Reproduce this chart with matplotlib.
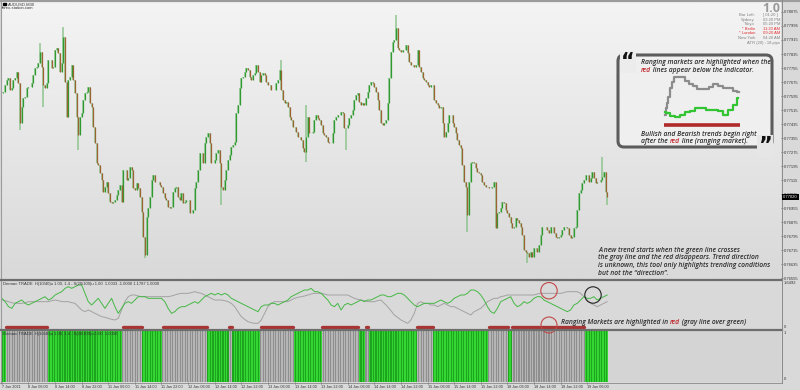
import numpy as np
import matplotlib
matplotlib.use("Agg")
import matplotlib.pyplot as plt
from matplotlib.patches import FancyBboxPatch, Circle, Rectangle
from matplotlib.offsetbox import TextArea, HPacker, AnnotationBbox
from matplotlib.colors import LinearSegmentedColormap
from matplotlib.transforms import blended_transform_factory

# ---------------- data ----------------
close = [
 0.77611,0.77620,0.77658,0.77687,0.77696,0.77630,0.77639,0.77687,0.77696,0.77734,
 0.77668,0.77439,0.77534,0.77582,0.77592,0.77639,0.77649,0.77649,0.77668,0.77715,
 0.77753,0.77763,0.77782,0.77849,0.77763,0.77658,0.77639,0.77668,0.77801,0.77801,
 0.77753,0.77763,0.77858,0.77868,0.77839,0.77734,0.77782,0.77934,0.77677,0.77477,
 0.77687,0.77706,0.77773,0.77687,0.77611,0.77477,0.77372,0.77477,0.77496,0.77572,
 0.77611,0.77620,0.77649,0.77553,0.77534,0.77420,0.77325,0.77211,0.77201,0.77153,
 0.77115,0.77049,0.77077,0.77106,0.77039,0.76991,0.76982,0.76991,0.77001,0.77030,
 0.77058,0.77087,0.76991,0.77172,0.77172,0.77115,0.77125,0.77191,0.77172,0.77068,
 0.77058,0.77096,0.77068,0.77020,0.76934,0.76791,0.76687,0.76906,0.76953,0.77020,
 0.77115,0.77144,0.77106,0.77106,0.77106,0.77087,0.77077,0.77039,0.77011,0.77001,
 0.76963,0.76953,0.76963,0.77049,0.77068,0.77077,0.77020,0.77001,0.77039,0.76982,
 0.76991,0.77001,0.77001,0.76925,0.76925,0.76944,0.77068,0.77106,0.77172,0.77268,
 0.77268,0.77211,0.77325,0.77363,0.77382,0.77325,0.77211,0.77211,0.77230,0.77268,
 0.77287,0.77211,0.77077,0.77058,0.77115,0.77172,0.77230,0.77258,0.77306,0.77315,
 0.77334,0.77496,0.77544,0.77639,0.77696,0.77706,0.77734,0.77753,0.77744,0.77706,
 0.77687,0.77715,0.77725,0.77773,0.77734,0.77677,0.77715,0.77725,0.77715,0.77677,
 0.77658,0.77658,0.77630,0.77630,0.77630,0.77668,0.77687,0.77744,0.77630,0.77572,
 0.77553,0.77563,0.77534,0.77477,0.77458,0.77420,0.77420,0.77392,0.77363,0.77363,
 0.77344,0.77296,0.77277,0.77363,0.77477,0.77382,
 0.77382,0.77392,0.77458,0.77487,0.77468,0.77458,0.77430,0.77382,0.77372,0.77363,
 0.77334,0.77325,0.77325,0.77382,0.77458,0.77477,0.77487,0.77487,0.77506,0.77496,
 0.77411,0.77411,0.77430,0.77468,0.77487,0.77515,0.77572,0.77601,0.77611,0.77563,
 0.77544,0.77553,0.77544,0.77582,0.77620,0.77658,0.77677,0.77668,0.77649,0.77620,
 0.77572,0.77515,0.77439,0.77430,0.77439,0.77458,0.77553,0.77696,0.77849,0.77906,
 0.77915,0.77982,0.77868,0.77858,0.77849,0.77858,0.77858,0.77887,0.77839,0.77792,
 0.77773,0.77773,0.77763,0.77773,0.77858,0.77763,0.77734,0.77696,0.77687,0.77677,
 0.77658,0.77649,0.77658,0.77658,0.77572,0.77553,0.77544,0.77525,0.77534,0.77439,
 0.77363,0.77392,0.77439,0.77487,0.77487,0.77439,0.77420,0.77382,0.77344,0.77315,
 0.77296,0.77201,0.77106,0.77077,0.76915,0.77106,0.77211,0.77220,0.77211,0.77182,
 0.77163,0.77153,0.77144,0.77106,0.77087,0.77077,0.77077,0.77068,0.77068,0.77077,
 0.77106,0.76839,0.76925,0.76934,0.76953,0.76991,0.76982,0.76944,0.76925,0.76906,
 0.76868,0.76839,0.76849,0.76896,0.76887,0.76868,0.76849,0.76801,0.76715,0.76706,
 0.76696,0.76677,0.76706,0.76677,0.76725,0.76725,0.76706,0.76744,0.76801,0.76849,
 0.76849,0.76849,0.76830,0.76810,0.76849,0.76849,0.76810,0.76791,0.76782,0.76791,
 0.76801,0.76830,0.76849,0.76849,0.76839,0.76801,0.76782,0.76791,0.76839,0.76849,
 0.76944,0.77039,0.77058,0.77096,0.77115,0.77144,0.77144,0.77106,0.77125,0.77163,
 0.77125,0.77096,0.77106,0.77106,0.77115,0.77134,0.77163,0.77049,0.77020,
]
# notable wick extremes (bar index -> price)
wick_high = {23: 0.77896, 37: 0.77992, 168: 0.77801, 183: 0.77544, 237: 0.78058, 361: 0.77249}
wick_low = {11: 0.77401, 25: 0.77534, 46: 0.77287, 86: 0.76668, 132: 0.76972, 183: 0.77220,
            207: 0.77287, 280: 0.76820, 316: 0.76639, 364: 0.76972}

# indicator lines, one value every 2 bars
green_line = [
 0.95,0.85,0.70,0.65,0.80,0.85,0.90,0.80,0.75,0.80,
 0.85,0.90,0.95,1.00,0.90,0.95,1.05,1.10,1.15,1.25,
 1.30,1.25,1.30,1.35,1.35,1.10,0.85,0.75,0.85,0.95,
 0.80,0.65,0.80,0.95,0.70,0.50,0.65,0.80,0.85,0.80,
 0.90,1.00,1.00,1.00,0.95,0.95,0.95,0.95,0.95,0.85,
 0.65,0.50,0.55,0.65,0.70,0.70,0.75,0.80,0.85,0.80,
 0.90,1.00,1.05,1.10,1.05,1.10,1.05,1.10,1.05,0.95,
 0.90,0.85,0.80,0.75,0.70,0.65,0.60,0.55,0.70,0.75,
 0.75,0.80,0.80,0.75,0.80,0.85,0.90,1.00,1.05,1.10,
 1.15,1.20,1.20,1.25,1.15,1.15,1.10,1.00,0.90,0.75,
 0.70,0.80,0.60,0.75,0.80,0.75,0.80,0.85,0.90,0.85,
 0.90,0.90,0.95,1.00,1.05,1.05,1.00,1.00,1.05,1.10,
 1.10,
 1.05,0.95,0.85,0.75,0.70,0.75,0.80,0.80,0.80,0.80,
 0.85,0.90,0.85,0.80,0.85,0.95,1.00,1.05,1.05,1.10,
 1.20,1.20,1.15,1.05,0.90,0.70,0.55,0.50,0.65,0.85,
 0.90,0.95,1.00,0.80,0.70,0.75,0.85,0.80,0.85,0.95,
 1.00,1.00,0.90,0.85,0.80,0.75,0.70,0.65,0.60,0.55,
 0.60,0.75,0.80,0.90,1.00,0.95,0.95,1.00,0.90,0.95,
 1.00,1.05,
]
gray_line = [
 0.90,0.88,0.85,0.82,0.80,0.80,0.80,0.82,0.85,0.85,
 0.85,0.85,0.85,0.85,0.85,0.88,0.90,0.88,0.85,0.85,
 0.85,0.82,0.80,0.70,0.60,0.55,0.60,0.55,0.50,0.45,
 0.40,0.38,0.35,0.32,0.30,0.35,0.60,0.85,1.00,1.05,
 1.05,1.02,1.00,1.00,1.00,1.00,1.00,1.00,1.00,1.00,
 1.00,1.02,1.05,1.08,1.10,1.10,1.10,1.12,1.15,1.12,
 1.10,1.05,1.00,0.95,0.90,0.90,0.90,0.88,0.85,0.80,
 0.70,0.55,0.40,0.32,0.25,0.22,0.20,0.20,0.30,0.50,
 0.70,0.80,0.85,0.85,0.85,0.85,0.85,0.90,0.95,0.98,
 1.00,1.02,1.05,1.08,1.10,1.10,1.10,1.08,1.05,1.05,
 1.05,1.05,1.05,1.05,1.05,1.00,0.95,0.92,0.90,0.88,
 0.85,0.85,0.85,0.88,0.90,0.80,0.70,0.58,0.45,0.38,
 0.30,
 0.25,0.20,0.30,0.50,0.80,0.85,0.80,0.80,0.75,0.75,
 0.70,0.75,0.80,0.75,0.70,0.70,0.65,0.60,0.55,0.50,
 0.45,0.55,0.60,0.65,0.75,0.85,0.90,0.95,0.95,1.00,
 1.02,1.05,1.05,1.05,1.05,1.05,1.05,1.05,1.05,1.05,
 1.08,1.10,1.10,1.10,1.10,1.10,1.10,1.10,1.12,1.15,
 1.15,1.15,1.15,1.10,1.00,0.90,0.80,0.75,0.70,0.75,
 0.80,0.85,
]
# trend (G) / ranging (R) regimes as run lengths in bars
regime_runs = [("G",3),("R",25),("G",45),("R",12),("G",12),("R",27),("G",13),("R",2),
               ("G",17),("R",20),("G",17),("R",22),("G",4),("R",2),("G",29),("R",10),
               ("G",33),("R",12),("G",2),("R",44),("G",14)]

price_ticks = [0.78075,0.77995,0.77915,0.77835,0.77755,0.77675,0.77595,0.77515,0.77435,0.77355,
               0.77275,0.77195,0.77115,0.77035,0.76955,0.76875,0.76795,0.76715,0.76635,0.76555]
time_labels = ["7 Jan 2021","8 Jan 06:00","8 Jan 14:00","8 Jan 22:00","11 Jan 06:00","11 Jan 14:00",
               "11 Jan 22:00","12 Jan 06:00","12 Jan 14:00","12 Jan 22:00","13 Jan 06:00","13 Jan 14:00",
               "13 Jan 22:00","14 Jan 06:00","14 Jan 14:00","14 Jan 22:00","15 Jan 06:00","15 Jan 14:00",
               "15 Jan 22:00","18 Jan 06:00","18 Jan 14:00","18 Jan 22:00","19 Jan 06:00"]
bars_per_label = 16

# mini illustration inside the callout (pixel coordinates)
mini_gray_x = [665,666,667,668,671,673,675,678,683,687,691,694,700,707,710,715,720,725,730,735,739]
mini_gray_y = [115,108,103,97,88,82,77,77,77,81,84,86,89,89,87,84,86,88,88,91,92]
mini_green_x = [665,667,672,677,682,687,692,697,703,708,715,721,725,730,735,738]
mini_green_y = [112,113,116,117,115,112,111,108,108,110,110,111,115,110,105,98]

# ---------------- figure ----------------
W, H = 800, 390
fig = plt.figure(figsize=(W/100, H/100), dpi=100, facecolor="#d9d9d9")
FONT = ["Open Sans", "DejaVu Sans"]
SMALLF = ["Liberation Sans", "DejaVu Sans"]
TINY = dict(family=SMALLF, fontsize=3.0, color="#333333")

bar_px = 1.663
x_left_px, x_right_px = 1, 781
xlim = (-0.5, -0.5 + (x_right_px - x_left_px) / bar_px)

def fig_rect(x0, y0, x1, y1):
    return [x0 / W, (H - y1) / H, (x1 - x0) / W, (y1 - y0) / H]

close = np.array(close)
n = len(close)
idx = np.arange(n)

# main price panel
ax = fig.add_axes(fig_rect(x_left_px, 2, x_right_px, 279))
ax.set_xlim(*xlim)
ax.set_ylim(0.76550, 0.78132)
grad = LinearSegmentedColormap.from_list("bg", ["#f4f4f4", "#d9d9d9"])
ax.imshow(np.linspace(0, 1, 256).reshape(-1, 1), cmap=grad, aspect="auto",
          extent=[xlim[0], xlim[1], 0.76550, 0.78132], zorder=0)
opn = np.r_[close[0], close[:-1]]
hi = np.maximum(opn, close)
lo = np.minimum(opn, close)
for k, v in wick_high.items():
    hi[k] = v
for k, v in wick_low.items():
    lo[k] = v
ax.vlines(idx, lo, hi, color="#84c084", lw=1.3, alpha=0.75, zorder=2)
up = close >= opn
ax.vlines(idx[up], opn[up], close[up], color="#2f9a2f", lw=0.9, zorder=3)
ax.vlines(idx[~up], close[~up], opn[~up], color="#9b6232", lw=0.9, zorder=3)
ax.yaxis.tick_right()
ax.set_yticks(price_ticks)
ax.set_yticklabels([f"{p:.5f}" for p in price_ticks], family=SMALLF)
ax.tick_params(axis="y", labelsize=3.0, length=1.5, pad=0.8, colors="#333333", width=0.4)
ax.set_xticks([])
for s in ax.spines.values():
    s.set_visible(False)

# indicator panel 1 (lines)
ax1 = fig.add_axes(fig_rect(x_left_px, 281, x_right_px, 329))
ax1.set_facecolor("#d9d9d9")
ax1.set_xlim(*xlim)
ax1.set_ylim(0.03, 1.47)
lx = np.arange(len(green_line)) * 2
ax1.plot(lx, gray_line, color="#a2a2a2", lw=0.7)
ax1.plot(lx, green_line, color="#45b845", lw=0.7)
ax1.set_xticks([]); ax1.set_yticks([])
for s in ax1.spines.values():
    s.set_visible(False)
tr = blended_transform_factory(ax1.transData, ax1.transAxes)

# indicator panel 2 (regime histogram)
ax2 = fig.add_axes(fig_rect(x_left_px, 331, x_right_px, 382))
ax2.set_facecolor("#d4d4d4")
ax2.set_xlim(*xlim)
ax2.set_ylim(0, 1)
start = 0
for state, length in regime_runs:
    xs = np.arange(start, start + length)
    if state == "G":
        ax2.bar(xs, 1, width=1.0, color="#1ea51e", linewidth=0)
        ax2.bar(xs, 1, width=0.55, color="#33d633", linewidth=0)
    else:
        ax2.bar(xs, 1, width=1.0, color="#8e8e8e", linewidth=0)
        ax2.bar(xs, 1, width=0.55, color="#b6b6b6", linewidth=0)
        ax1.plot([start - 0.2, start + length - 0.8], [0.035, 0.035], transform=tr,
                 color="#a83434", lw=2.4, solid_capstyle="round", clip_on=False, zorder=5)
    start += length
ax2.set_yticks([])
tick_pos = [bars_per_label * k for k in range(len(time_labels))]
ax2.set_xticks(tick_pos)
ax2.set_xticklabels(time_labels, family=SMALLF)
ax2.tick_params(axis="x", labelsize=2.7, length=1.5, pad=0.8, colors="#333333", width=0.4)
for lab in ax2.get_xticklabels():
    lab.set_horizontalalignment("left")
for s in ax2.spines.values():
    s.set_visible(False)

# ---------------- overlay in pixel coords ----------------
ov = fig.add_axes([0, 0, 1, 1], zorder=10)
ov.set_xlim(0, W); ov.set_ylim(H, 0)
ov.patch.set_alpha(0); ov.axis("off")

ov.plot([0, W], [1, 1], color="#9c9c9c", lw=1.6)
ov.plot([0.5, 0.5], [0, 383], color="#9c9c9c", lw=0.8)
ov.plot([0, 782], [279.8, 279.8], color="#6e6e6e", lw=1.6)
ov.plot([0, 782], [330.2, 330.2], color="#6e6e6e", lw=1.6)
ov.plot([781.5, 781.5], [0, 383], color="#8a8a8a", lw=0.7)
ov.plot([0, 782], [382.8, 382.8], color="#8a8a8a", lw=0.6)

# title and small labels
ov.add_patch(Rectangle((3, 3), 3, 2.2, color="black"))
ov.text(8, 4.3, "AUDUSD,M30", va="center", ha="left", **TINY)
ov.text(2, 8, "forex-station.com", va="center", ha="left", **TINY)
ov.text(3, 284.5, "Demarc TRADE  H(10/40)u 1.00, 1.4 - S(20/100)u 1.00  1.0033 -1.0000 1.1787 1.0000",
        va="center", ha="left", **TINY)
ov.text(3, 334.5, "Demarc TRADE  H(10/40)u 1.00, 1.4 - S(20/100)u 1.00  1.0000",
        va="center", ha="left", **TINY)
ov.text(784, 283, "1.6492", va="center", ha="left", **TINY)
ov.text(784, 327, "0", va="center", ha="left", **TINY)
ov.text(784, 333, "1", va="center", ha="left", **TINY)
ov.text(784, 379, "0", va="center", ha="left", **TINY)
ov.text(783, 197, f"{close[-1]:.5f}", va="center", ha="left", family=SMALLF,
        fontsize=3.0, color="white",
        bbox=dict(boxstyle="square,pad=0.25", fc="black", ec="none"))

# top-right info block
ov.text(780, 8, "1.0", ha="right", va="center", fontsize=9, fontweight="bold",
        color="#9a9a9a", family=FONT)
info_rows = [("Bar Left:", "[ 01:20 ]", "#808080"), ("Sydney", "03:20 PM", "#808080"),
             ("Tokyo", "05:20 PM", "#808080"), ("* Berlin", "11:20 AM", "#e03030"),
             ("* London", "09:20 AM", "#e03030"), ("New York", "04:20 AM", "#808080")]
for r, (name, val, col) in enumerate(info_rows):
    yy = 15 + r * 4.6
    ov.text(755, yy, name, ha="right", va="center", family=SMALLF, fontsize=3.0, color=col)
    ov.text(763, yy, val, ha="left", va="center", family=SMALLF, fontsize=3.0, color=col)
ov.text(780, 43, "ATR (20) : 18 pips", ha="right", va="center", family=SMALLF,
        fontsize=3.0, color="#808080")

def rich(x, y, parts, size=4.9):
    boxes = [TextArea(t, textprops=dict(color=c, fontsize=size, fontstyle="italic",
                                        fontweight="semibold", family=FONT)) for t, c in parts]
    pack = HPacker(children=boxes, align="baseline", pad=0, sep=0)
    ab = AnnotationBbox(pack, (x, y), xycoords="data", box_alignment=(0, 0.5),
                        frameon=False, pad=0)
    ov.add_artist(ab)

DK = "#2e2e2e"
RED = "#c0282d"

# callout box
ov.add_patch(FancyBboxPatch((618, 55), 154, 92, boxstyle="round,pad=0,rounding_size=6",
                            fc="#efefef", ec="#5c5c5c", lw=2.2))
ov.text(628, 62, "\u201c", ha="center", va="center", fontsize=15, fontweight="bold",
        color="#111111", family=["DejaVu Sans"],
        bbox=dict(boxstyle="square,pad=0.05", fc="#ececec", ec="none"))
ov.text(765, 146, "\u201d", ha="center", va="center", fontsize=15, fontweight="bold",
        color="#111111", family=["DejaVu Sans"],
        bbox=dict(boxstyle="square,pad=0.05", fc="#e6e6e6", ec="none"))
rich(641, 62.5, [("Ranging markets are highlighted when the", DK)])
rich(641, 70.5, [("red", RED), (" lines appear below the indicator.", DK)])
ov.plot(mini_gray_x, mini_gray_y, color="#8c8c8c", lw=1.6, drawstyle="steps-mid")
ov.plot(mini_green_x, mini_green_y, color="#33c433", lw=1.6, drawstyle="steps-mid")
ov.plot([664, 740], [125, 125], color="#b02a2a", lw=2.6, solid_capstyle="butt")
rich(641, 134, [("Bullish and Bearish trends begin right", DK)])
rich(641, 141.7, [("after the ", DK), ("red", RED), (" line (ranging market).", DK)])

# lower annotation
rich(598, 250, [("A new trend starts when the green line crosses", DK)])
rich(598, 257.5, [("the gray line and the red disappears. Trend direction", DK)])
rich(598, 265.5, [("is unknown, this tool only highlights trending conditions", DK)])
rich(598, 273.3, [("but not the \u201cdirection\u201d.", DK)])
rich(561, 322, [("Ranging Markets are highlighted in ", DK), ("red", RED),
                (" (gray line over green)", DK)])

# circles
ov.add_patch(Circle((549, 290.7), 8.2, fill=False, ec="#c24848", lw=0.8))
ov.add_patch(Circle((549, 325), 8.0, fill=False, ec="#c24848", lw=0.8))
ov.add_patch(Circle((593, 295), 8.2, fill=False, ec="#222222", lw=0.8))

fig.savefig("out.png", dpi=100, facecolor=fig.get_facecolor())
